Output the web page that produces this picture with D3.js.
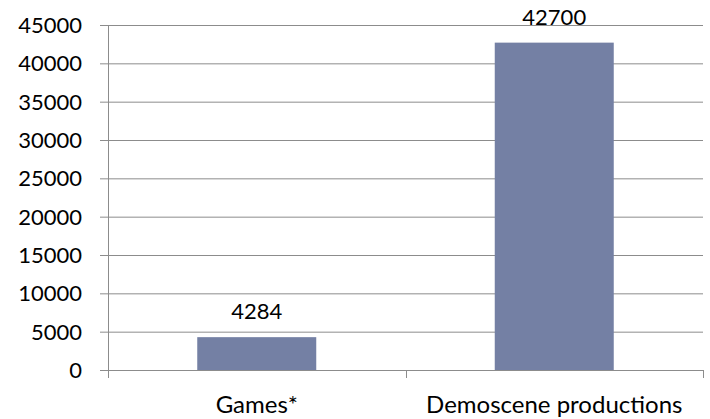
<!DOCTYPE html>
<html><head><meta charset="utf-8">
<script src="https://cdn.jsdelivr.net/npm/d3@7"></script>
<style>body{margin:0;background:#fff}svg{display:block}text{font-family:Lato,"Open Sans",sans-serif;fill:#000}</style>
</head><body><svg id="c" width="710" height="419"></svg>
<script>
const categories = ["Games*", "Demoscene productions"];
const values = [4284, 42700];
const yTicks = [0,5000,10000,15000,20000,25000,30000,35000,40000,45000];

const svg = d3.select("#c");
const m = {l:108, r:7, t:25, b:49};
const W = 710, H = 419;
const x = d3.scaleBand().domain(categories).range([m.l, W-m.r]).paddingInner(0.6).paddingOuter(0.3);
const xb = d3.scaleBand().domain(categories).range([m.l, W-m.r]);
const y = d3.scaleLinear().domain([0,45000]).range([H-m.b, m.t]);
const grid = "#8c8c8c";

svg.append("g").selectAll("line").data(yTicks).join("line")
  .attr("x1", m.l-8).attr("x2", W-m.r)
  .attr("y1", d=>y(d)+0.5).attr("y2", d=>y(d)+0.5)
  .attr("stroke", grid).attr("stroke-width",1);
svg.append("line").attr("x1", m.l+0.5).attr("x2", m.l+0.5).attr("y1", y(45000)).attr("y2", y(0)+8)
  .attr("stroke", grid);
const bounds = [m.l, ...categories.map(c=>xb(c)+xb.bandwidth())];
svg.append("g").selectAll("line").data(bounds).join("line")
  .attr("x1", d=>Math.round(d)+0.5).attr("x2", d=>Math.round(d)+0.5)
  .attr("y1", y(0)).attr("y2", y(0)+8).attr("stroke", grid);
svg.append("g").selectAll("text").data(yTicks).join("text")
  .attr("x", 82).attr("y", d=>y(d)).attr("dy","0.36em")
  .attr("text-anchor","end").style("font-size","22px").text(d=>d);
svg.append("g").selectAll("rect").data(values).join("rect")
  .attr("x",(d,i)=>x(categories[i])).attr("width", x.bandwidth())
  .attr("y", d=>y(d)).attr("height", d=>y(0)-y(d)).attr("fill","#7480a4");
svg.append("g").selectAll("text").data(values).join("text")
  .attr("x",(d,i)=>x(categories[i])+x.bandwidth()/2).attr("y", d=>y(d)-18)
  .attr("text-anchor","middle").style("font-size","22px").text(d=>d);
svg.append("g").selectAll("text").data(categories).join("text")
  .attr("x", d=>xb(d)+xb.bandwidth()/2).attr("y", H-6)
  .attr("text-anchor","middle").style("font-size","24px").text(d=>d);
</script></body></html>
